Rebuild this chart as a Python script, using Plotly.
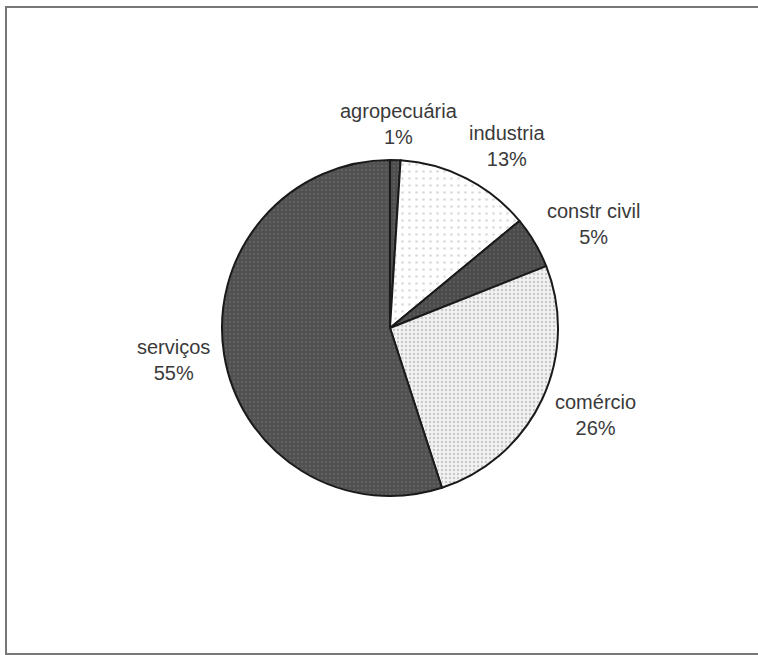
import math
import plotly.graph_objects as go

labels = ["agropecuária", "industria", "constr civil", "comércio", "serviços"]
values = [1, 13, 5, 26, 55]

bg_colors = ["#4d4d4d", "#ffffff", "#4a4a4a", "#f2f2f2", "#505050"]
fg_colors = ["#6e6e6e", "#b5b5b5", "#6a6a6a", "#a0a0a0", "#707070"]
pat_sizes = [4, 7, 4, 4, 4]
pat_solid = [0.3, 0.12, 0.3, 0.3, 0.3]

W, H = 758, 655
CX, CY, R = 390, 328, 168   # pie centre / radius in pixels (layout only)
FS = 20
GAP = 14

fig = go.Figure()

# empty cartesian trace so the axis lines can serve as the chart frame
fig.add_trace(go.Scatter(x=[], y=[], showlegend=False, hoverinfo="skip"))

fig.add_trace(go.Pie(
    labels=labels,
    values=values,
    sort=False,
    direction="clockwise",
    rotation=0,
    textinfo="none",
    marker=dict(
        colors=bg_colors,
        line=dict(color="#1a1a1a", width=2),
        pattern=dict(shape=".", fgcolor=fg_colors, bgcolor=bg_colors,
                     size=pat_sizes, solidity=pat_solid, fillmode="overlay"),
    ),
    domain=dict(x=[(CX - R) / W, (CX + R) / W], y=[1 - (CY + R) / H, 1 - (CY - R) / H]),
    showlegend=False,
    hoverinfo="label+percent",
))

# approximate Arial glyph widths (em) to size label boxes
CW = {"a": .556, "b": .556, "c": .5, "d": .556, "e": .556, "g": .556, "i": .222,
      "l": .222, "m": .833, "n": .556, "o": .556, "p": .556, "r": .333, "s": .5,
      "t": .278, "u": .556, "v": .5, "ç": .5, "á": .556, "é": .556, " ": .278, "%": .889}


def text_w(s):
    return sum(CW.get(ch, .556) for ch in s) * FS


total = sum(values)
annotations = []
cum = 0
for lab, v in zip(labels, values):
    theta = 2 * math.pi * (cum + v / 2) / total
    cum += v
    pct = f"{v / total:.0%}"
    s, c = math.sin(theta), math.cos(theta)
    hw = max(text_w(lab), text_w(pct)) / 2
    hh = 22
    px = CX + (R + GAP) * s + hw * max(-1, min(1, 2 * s))
    py = CY - (R + GAP) * c - hh * c
    annotations.append(dict(
        x=px / W, y=1 - py / H, xref="paper", yref="paper",
        xanchor="center", yanchor="middle", showarrow=False,
        text=f"{lab}<br>{pct}", align="center",
        font=dict(family="Liberation Sans, Arial, sans-serif", size=FS, color="#3a3a3a"),
    ))

fig.update_layout(
    width=W, height=H,
    margin=dict(l=0, r=0, t=0, b=0),
    paper_bgcolor="white",
    plot_bgcolor="rgba(0,0,0,0)",
    annotations=annotations,
    xaxis=dict(domain=[7 / W, 1], showline=True, mirror=True, linecolor="#777777",
               linewidth=2, showgrid=False, zeroline=False, showticklabels=False,
               ticks="", fixedrange=True),
    yaxis=dict(domain=[2 / H, 1 - 8 / H], showline=True, mirror=False, linecolor="#777777",
               linewidth=2, showgrid=False, zeroline=False, showticklabels=False,
               ticks="", fixedrange=True),
)

fig.write_html("out.html", config={"displayModeBar": False},
               post_script="document.body.style.margin='0';document.body.style.overflow='hidden';")
